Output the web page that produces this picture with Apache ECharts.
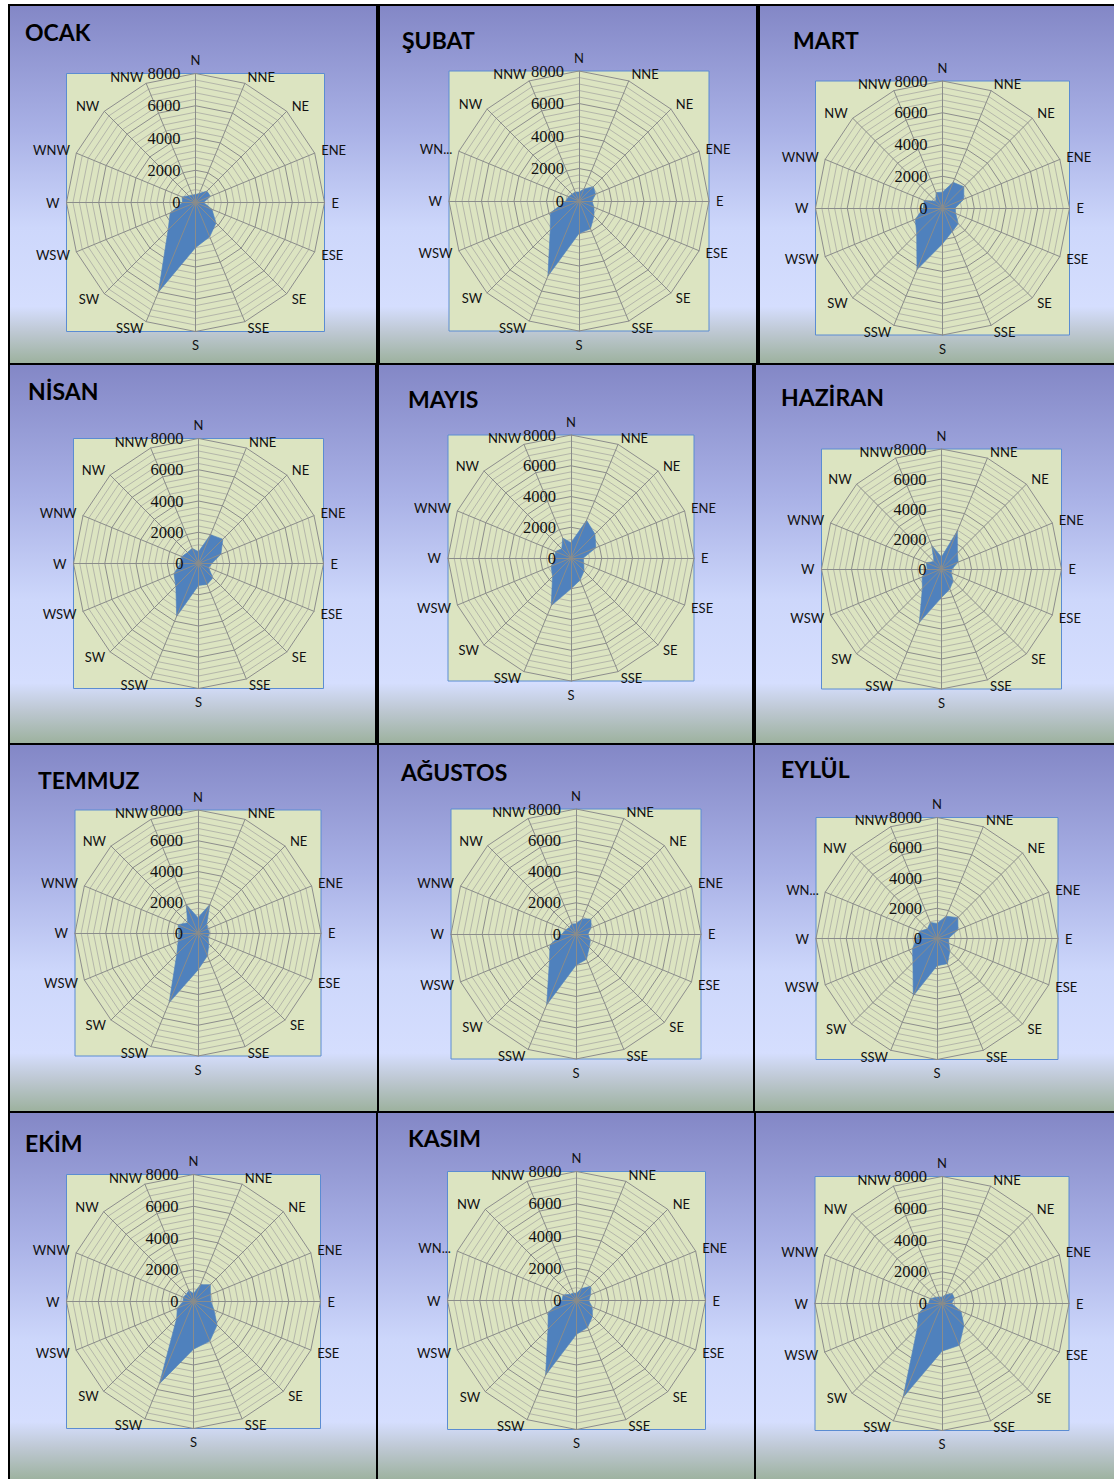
<!DOCTYPE html>
<html>
<head>
<meta charset="utf-8">
<script src="https://cdn.jsdelivr.net/npm/echarts@6/dist/echarts.min.js"></script>
<style>
  html, body { margin: 0; padding: 0; background: #ffffff; }
  #chart { width: 1114px; height: 1479px; }
</style>
</head>
<body>
<div id="chart"></div>
<script>
// Wind directions, clockwise from north
const directions = ['N', 'NNE', 'NE', 'ENE', 'E', 'ESE', 'SE', 'SSE', 'S', 'SSW', 'SW', 'WSW', 'W', 'WNW', 'NW', 'NNW'];

// Panel titles (the last panel carries no title)
const months = ['OCAK', 'ŞUBAT', 'MART', 'NİSAN', 'MAYIS', 'HAZİRAN', 'TEMMUZ', 'AĞUSTOS', 'EYLÜL', 'EKİM', 'KASIM', ''];

// Monthly counts per direction (same order as `directions`)
const ocak    = [500, 600, 1000, 1000, 500, 1100, 1800, 2300, 2800, 6000, 2400, 1700, 800, 900, 600, 500];
const subat   = [550, 800, 1250, 1100, 800, 1000, 1300, 1850, 2000, 5000, 2500, 1900, 800, 700, 600, 600];
const mart    = [1000, 1750, 1900, 1450, 800, 900, 1400, 1600, 2250, 4200, 2300, 1850, 1200, 1250, 600, 1050];
const nisan   = [750, 2000, 2200, 1550, 850, 700, 1300, 1450, 1400, 3650, 2050, 1700, 1150, 1150, 1000, 1050];
const mayis   = [1000, 2650, 2200, 1750, 800, 900, 1200, 1550, 2000, 3350, 1700, 1400, 1000, 1100, 850, 1400];
const haziran = [800, 2750, 1500, 1200, 700, 700, 1100, 1450, 1900, 3850, 1800, 1400, 950, 1100, 700, 1700];
const temmuz  = [1000, 2000, 800, 700, 750, 700, 1000, 1600, 2400, 4900, 1950, 1400, 1250, 1400, 950, 2000];
const agustos = [650, 1050, 1350, 1050, 750, 1000, 1200, 1750, 2000, 4900, 2400, 1800, 900, 700, 600, 700];
const eylul   = [1000, 1600, 1950, 1500, 750, 850, 1200, 1800, 1800, 4100, 2250, 1750, 1350, 1250, 900, 1150];
const ekim    = [500, 1150, 1500, 1150, 1100, 1400, 2100, 2700, 3000, 5600, 1500, 1100, 650, 700, 650, 750];
const kasim   = [450, 800, 1250, 950, 750, 1050, 1400, 1800, 2100, 5000, 2500, 1900, 900, 900, 550, 500];
const aralik  = [400, 600, 900, 850, 600, 1300, 1950, 2850, 3000, 6400, 2200, 1600, 850, 800, 550, 450];

const monthlyValues = [ocak, subat, mart, nisan, mayis, haziran, temmuz, agustos, eylul, ekim, kasim, aralik];

// Value axis
const axisMax = 8000;
const axisTickLabels = [0, 2000, 4000, 6000, 8000];
const minorStep = 400;

// Panels where the WNW name is shortened
const shortWnw = [false, true, false, false, false, false, false, false, true, false, true, false];

// Layout: panel box [x0, y0, x1, y1], radar centre, radius, title anchor
const panelLayout = [
  { box: [9, 5, 377, 364],       c: [195.5, 202.5],  r: 129, t: [25, 32] },
  { box: [379, 5, 757, 364],     c: [579, 201],      r: 130, t: [402, 40] },
  { box: [759, 5, 1116, 364],    c: [942.5, 208],    r: 127, t: [793, 40] },
  { box: [9, 364, 376, 744],     c: [198.5, 563.5],  r: 125, t: [28, 391] },
  { box: [378, 364, 753, 744],   c: [571, 558],      r: 123, t: [408, 399] },
  { box: [755, 364, 1116, 744],  c: [941.5, 569],    r: 120, t: [781, 397] },
  { box: [9, 744, 378, 1112],    c: [198, 933],      r: 123, t: [38, 780] },
  { box: [378, 744, 754, 1112],  c: [576, 934],      r: 125, t: [401, 772] },
  { box: [754, 744, 1116, 1112], c: [937, 938.5],    r: 121, t: [781, 769] },
  { box: [9, 1112, 377, 1481],   c: [193.5, 1301.5], r: 127, t: [25, 1143] },
  { box: [377, 1112, 755, 1481], c: [576.5, 1300.5], r: 129, t: [408, 1138] },
  { box: [755, 1112, 1116, 1481],c: [942, 1303.5],   r: 127, t: [0, 0] }
];

// ECharts lays radar indicators out counter-clockwise from startAngle,
// so walk the compass backwards: N, NNW, NW, ... NNE
const radarOrder = directions.map((_, k) => (directions.length - k) % directions.length);
const reorder = arr => radarOrder.map(i => arr[i]);

const nameFont = 'Lato, "Noto Sans", "DejaVu Sans", sans-serif';
const tickFont = '"Liberation Serif", "DejaVu Serif", serif';

const panelFill = new echarts.graphic.LinearGradient(0, 0, 0, 1, [
  { offset: 0.00, color: '#8387c6' },
  { offset: 0.35, color: '#a9b1e6' },
  { offset: 0.62, color: '#cdd7fb' },
  { offset: 0.84, color: '#d5defe' },
  { offset: 0.91, color: '#bec8d3' },
  { offset: 1.00, color: '#9cb19d' }
]);

const graphics = [];
const radars = [];
const series = [];

panelLayout.forEach((p, i) => {
  const [x0, y0, x1, y1] = p.box;
  graphics.push({
    type: 'rect',
    shape: { x: x0, y: y0, width: x1 - x0, height: y1 - y0 },
    style: { fill: panelFill, stroke: '#000000', lineWidth: 2 }
  });
  graphics.push({
    type: 'rect',
    shape: { x: p.c[0] - p.r, y: p.c[1] - p.r, width: p.r * 2, height: p.r * 2 },
    style: { fill: '#dce4c1', stroke: '#5b8cd2', lineWidth: 1 }
  });
  if (months[i]) {
    graphics.push({
      type: 'text',
      x: p.t[0], y: p.t[1],
      style: {
        text: months[i], fill: '#000000',
        font: 'bold 23px ' + nameFont,
        textVerticalAlign: 'middle', verticalAlign: 'middle'
      }
    });
  }

  const short = shortWnw[i];
  const orderedNames = radarOrder.map(k => directions[k]);

  // Web of rings and direction names (drawn beneath the data)
  radars.push({
    z: 2,
    center: p.c,
    radius: p.r,
    startAngle: 90,
    splitNumber: axisMax / minorStep,
    shape: 'polygon',
    nameGap: 7,
    indicator: orderedNames.map(name => ({ name: name, min: 0, max: axisMax })),
    axisName: {
      color: '#111111', fontFamily: nameFont, fontSize: 13,
      formatter: name => (short && name === 'WNW') ? 'WN...' : name
    },
    axisLine: { show: false },
    axisTick: { show: false },
    axisLabel: { show: false },
    splitArea: { show: false },
    splitLine: {
      lineStyle: {
        color: ['#8d8d8d', '#b4b6aa', '#b4b6aa', '#b4b6aa', '#b4b6aa'],
        width: 1
      }
    }
  });

  // Spokes and value labels drawn on top of the filled area
  radars.push({
    z: 4,
    silent: true,
    center: p.c,
    radius: p.r,
    startAngle: 90,
    splitNumber: axisMax / minorStep,
    shape: 'polygon',
    indicator: orderedNames.map(name => ({
      name: name, min: 0, max: axisMax,
      axisLabel: { show: name === 'N' }
    })),
    axisName: { show: false },
    axisLine: { show: true, lineStyle: { color: '#8a8c8a', width: 1 } },
    axisTick: { show: false },
    axisLabel: {
      show: true, margin: 15, color: '#111111',
      fontFamily: tickFont, fontSize: 16.5,
      formatter: v => axisTickLabels.indexOf(v) >= 0 ? String(v) : ''
    },
    splitLine: { show: false },
    splitArea: { show: false }
  });

  series.push({
    type: 'radar',
    radarIndex: i * 2,
    z: 3,
    silent: true,
    symbol: 'none',
    lineStyle: { width: 0.6, color: '#4a7cba' },
    areaStyle: { color: '#4f81bd', opacity: 1 },
    data: [{ value: reorder(monthlyValues[i]), name: months[i] || '-' }]
  });
});

const chart = echarts.init(document.getElementById('chart'), null, { renderer: 'svg', width: 1114, height: 1479 });
chart.setOption({
  animation: false,
  backgroundColor: '#ffffff',
  graphic: { elements: graphics },
  radar: radars,
  series: series
});
</script>
</body>
</html>
